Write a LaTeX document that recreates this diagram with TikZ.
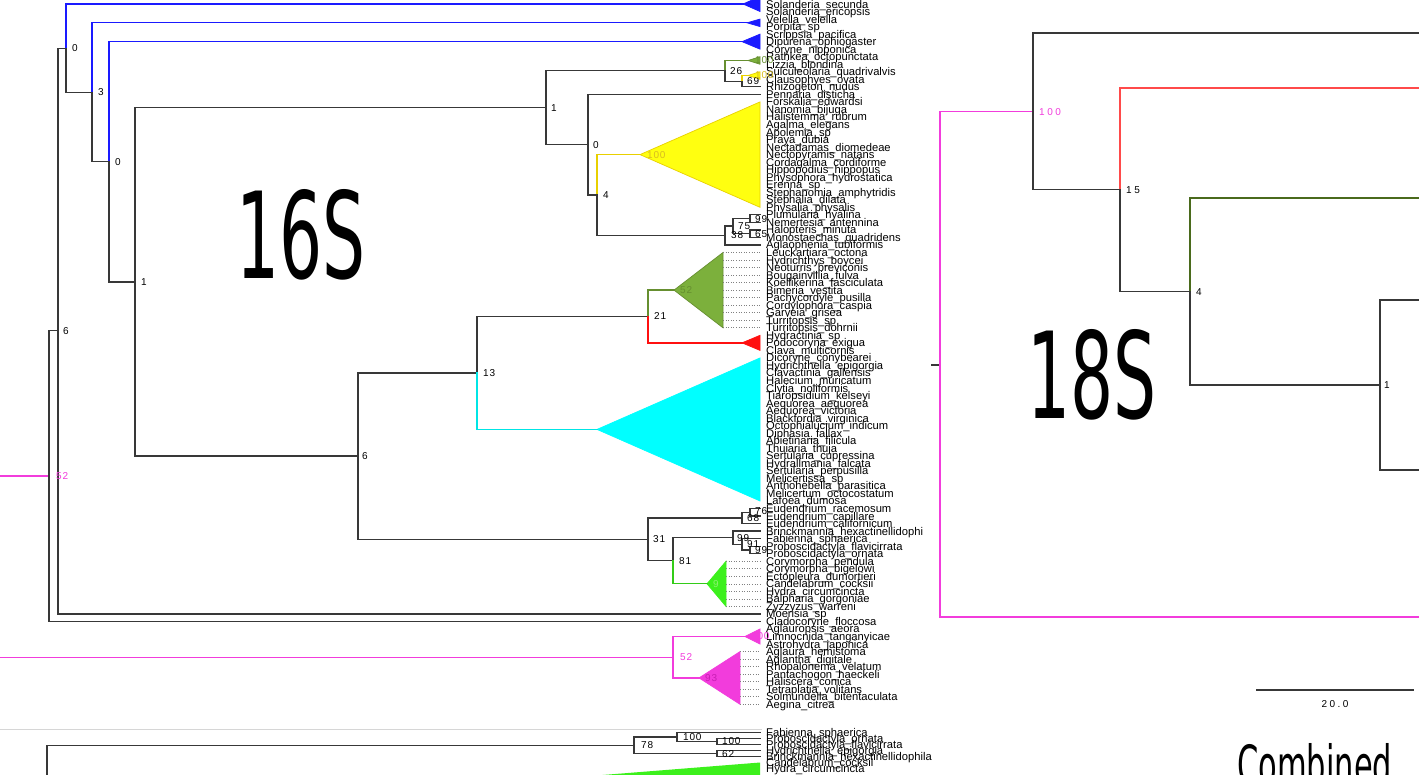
\documentclass[tikz,border=0pt]{standalone}
\usepackage{fontspec}
\setmainfont{Liberation Sans}
\newfontfamily\taxf{Liberation Sans}
\newfontfamily\numf[LetterSpace=8]{Liberation Sans}
\newfontfamily\snumf[LetterSpace=25]{Liberation Sans}
\newfontfamily\bigf{DejaVu Sans}
\definecolor{tblack}{HTML}{383838}
\definecolor{bluec}{HTML}{1A1AFF}
\definecolor{pinkc}{HTML}{F23CDC}
\definecolor{pinkdk}{HTML}{C81EB4}
\definecolor{yelfill}{HTML}{FFFF10}
\definecolor{yeledge}{HTML}{E8D000}
\definecolor{yellab}{HTML}{D8BC20}
\definecolor{olfill}{HTML}{7CB03C}
\definecolor{oledge}{HTML}{668F30}
\definecolor{redc}{HTML}{FF1010}
\definecolor{cyanc}{HTML}{00FFFF}
\definecolor{limec}{HTML}{3CF01C}
\definecolor{limelab}{HTML}{8CF070}
\definecolor{solive}{HTML}{4A6A1C}
\definecolor{sred}{HTML}{FF4A4A}
\definecolor{sepc}{HTML}{D6D6D6}
\begin{document}
\begin{tikzpicture}[x=1pt,y=-1pt,
  tl/.style={line width=1.3pt, line cap=rect, draw=tblack},
  bl/.style={tl, draw=bluec},
  pl/.style={tl, draw=pinkc},
  yl/.style={tl, draw=yeledge},
  ol/.style={tl, draw=oledge},
  rl/.style={tl, draw=redc},
  cl/.style={tl, draw=cyanc!90!black},
  ll/.style={tl, draw=limec!85!black},
  tri/.style={line width=0.7pt, line join=miter},
  lead/.style={draw=gray, dotted, line width=0.6pt},
  tax/.style={anchor=base west, inner sep=0pt, font=\taxf\fontsize{11.2}{11.2}\selectfont},
  nlab/.style={anchor=west, inner sep=0pt, font=\numf\fontsize{10}{10}\selectfont, text=black},
  slab/.style={anchor=west, inner sep=0pt, font=\snumf\fontsize{10}{10}\selectfont, text=black},
  big/.style={anchor=base west, inner sep=0pt, font=\bigf\fontsize{120}{120}\selectfont, xscale=0.565}]
\useasboundingbox (0,0) rectangle (1419,774);
\clip (0,0) rectangle (1419,774);
\fill[white] (0,0) rectangle (1419,774);

% ---------------- taxa of the 16S tree ----------------
\foreach \nm [count=\i] in {Solanderia\_secunda,Solanderia\_ericopsis,Velella\_velella,Porpita\_sp,Scrippsia\_pacifica,Dipurena\_ophiogaster,Coryne\_nipponica,Rathkea\_octopunctata,Lizzia\_blondina,Sulculeolaria\_quadrivalvis,Clausophyes\_ovata,Rhizogeton\_nudus,Pennaria\_disticha,Forskalia\_edwardsi,Nanomia\_bijuga,Halistemma\_rubrum,Agalma\_elegans,Apolemia\_sp,Praya\_dubia,Nectadamas\_diomedeae,Nectopyramis\_natans,Cordagalma\_cordiforme,Hippopodius\_hippopus,Physophora\_hydrostatica,Erenna\_sp,Stephanomia\_amphytridis,Stephalia\_dilata,Physalia\_physalis,Plumularia\_hyalina,Nemertesia\_antennina,Halopteris\_minuta,Monostaechas\_quadridens,Aglaophenia\_tubiformis,Leuckartiara\_octona,Hydrichthys\_boycei,Neoturris\_breviconis,Bougainvillia\_fulva,Koellikerina\_fasciculata,Bimeria\_vestita,Pachycordyle\_pusilla,Cordylophora\_caspia,Garveia\_grisea,Turritopsis\_sp,Turritopsis\_dohrnii,Hydractinia\_sp,Podocoryna\_exigua,Clava\_multicornis,Dicoryne\_conybearei,Hydrichthella\_epigorgia,Clavactinia\_gallensis,Halecium\_muricatum,Clytia\_noliformis,Tiaropsidium\_kelseyi,Aequorea\_aequorea,Aequorea\_victoria,Blackfordia\_virginica,Octophialucium\_indicum,Diphasia\_fallax,Abietinaria\_filicula,Thuiaria\_thuja,Sertularia\_cupressina,Hydrallmania\_falcata,Sertularia\_perpusilla,Melicertissa\_sp,Anthohebella\_parasitica,Melicertum\_octocostatum,Lafoea\_dumosa,Eudendrium\_racemosum,Eudendrium\_capillare,Eudendrium\_californicum,Brinckmannia\_hexactinellidophi,Fabienna\_sphaerica,Proboscidactyla\_flavicirrata,Proboscidactyla\_ornata,Corymorpha\_pendula,Corymorpha\_bigelowi,Ectopleura\_dumortieri,Candelabrum\_cocksii,Hydra\_circumcincta,Balpharia\_gorgoniae,Zyzzyzus\_warreni,Moerisia\_sp,Cladocoryne\_floccosa,Aglauropsis\_aeora,Limnocnida\_tanganyicae,Astrohydra\_japonica,Aglaura\_hemistoma,Aglantha\_digitale,Rhopalonema\_velatum,Pantachogon\_haeckeli,Haliscera\_conica,Tetraplatia\_volitans,Solmundella\_bitentaculata,Aegina\_citrea}{
  \pgfmathsetmacro\yy{4+7.53*(\i-1)}
  \coordinate (e\i) at (760,\yy);
  \node[tax] (t\i) at (766,\yy+4) {\nm};
}

% ---------------- internal nodes (16S) ----------------
\coordinate (L16) at (0,476.1);
\coordinate (r16) at (49,476.1);
\coordinate (n6a) at (58,330.8);
\coordinate (n0a) at (66,48.15);
\coordinate (n3) at (92,92.3);
\coordinate (n0b) at (109,161.8);
\coordinate (n1a) at (135,282);
\coordinate (n1b) at (546,107.8);
\coordinate (n26) at (725,70.8);
\coordinate (n69) at (742,81.2);
\coordinate (olsm) at (748,60.5);
\coordinate (yesm) at (748,75.5);
\coordinate (n0c) at (588,144.7);
\coordinate (n4) at (597,195.1);
\coordinate (yebig) at (640,154.6);
\coordinate (n38) at (725,235.5);
\coordinate (n75) at (733,226.1);
\coordinate (n99a) at (750,218.6);
\coordinate (n65) at (750,233.7);
\coordinate (n6b) at (358,456.1);
\coordinate (n13) at (477,373);
\coordinate (n21) at (648,316.5);
\coordinate (olbig) at (674,290.1);
\coordinate (redt) at (742,342.85);
\coordinate (cyt) at (597,429.4);
\coordinate (n31) at (648,539.3);
\coordinate (n68) at (742,517.9);
\coordinate (n76) at (750,512.3);
\coordinate (n81) at (673,560.75);
\coordinate (n99b) at (733,537.7);
\coordinate (n91) at (742,544.3);
\coordinate (n99c) at (750,549.9);
\coordinate (limet) at (707,583.8);
\coordinate (bl1) at (743,4);
\coordinate (bl2) at (747,22.8);
\coordinate (bl3) at (742,41.65);
\coordinate (L2) at (0,657.2);
\coordinate (np52) at (673,657.2);
\coordinate (pksm) at (745,636.5);
\coordinate (pkbig) at (699,677.9);

% ---------------- collapsed clades ----------------
\filldraw[tri, fill=bluec, draw=bluec] (bl1) -- (760,-3.5) -- (760,11.5) -- cycle;
\filldraw[tri, fill=bluec, draw=bluec] (bl2) -- (760,19.06) -- (760,26.59) -- cycle;
\filldraw[tri, fill=bluec, draw=bluec] (bl3) -- (760,34.12) -- (760,49.18) -- cycle;
\filldraw[tri, fill=olfill, draw=oledge] (olsm) -- (760,56.71) -- (760,64.24) -- cycle;
\filldraw[tri, fill=yelfill, draw=yeledge] (yesm) -- (760,71.77) -- (760,79.3) -- cycle;
\filldraw[tri, fill=yelfill, draw=yeledge] (yebig) -- (760,101.89) -- (760,207.31) -- cycle;
\filldraw[tri, fill=olfill, draw=oledge] (olbig) -- (723,252.49) -- (723,327.79) -- cycle;
\filldraw[tri, fill=redc, draw=redc] (redt) -- (760,335.32) -- (760,350.38) -- cycle;
\filldraw[tri, fill=cyanc, draw=cyanc] (cyt) -- (760,357.91) -- (760,500.98) -- cycle;
\filldraw[tri, fill=limec, draw=limec] (limet) -- (726,561.22) -- (726,606.4) -- cycle;
\filldraw[tri, fill=pinkc, draw=pinkc] (pksm) -- (760,628.99) -- (760,644.05) -- cycle;
\filldraw[tri, fill=pinkc, draw=pinkc] (pkbig) -- (740,651.58) -- (740,704.29) -- cycle;
\foreach \i in {34,...,44} \draw[lead] (723,{4+7.53*(\i-1)}) -- (e\i);
\foreach \i in {75,...,81} \draw[lead] (726,{4+7.53*(\i-1)}) -- (e\i);
\foreach \i in {87,...,94} \draw[lead] (740,{4+7.53*(\i-1)}) -- (e\i);

% ---------------- branches (16S) ----------------
\draw[pl] (L16) -- (r16);
\draw[tl] (r16) |- (n6a);
\draw[tl] (r16) |- (e83);
\draw[tl] (n6a) |- (n0a);
\draw[tl] (n6a) |- (e82);
\draw[bl] (n0a) |- (bl1);
\draw[tl] (n0a) |- (n3);
\draw[bl] (n3) |- (bl2);
\draw[tl] (n3) |- (n0b);
\draw[bl] (n0b) |- (bl3);
\draw[tl] (n0b) |- (n1a);
\draw[tl] (n1a) |- (n1b);
\draw[tl] (n1a) |- (n6b);
\draw[tl] (n1b) |- (n26);
\draw[tl] (n1b) |- (n0c);
\draw[ol] (n26) |- (olsm);
\draw[tl] (n26) |- (n69);
\draw[yl] (n69) |- (yesm);
\draw[tl] (n69) |- (e12);
\draw[tl] (n0c) |- (e13);
\draw[tl] (n0c) |- (n4);
\draw[yl] (n4) |- (yebig);
\draw[tl] (n4) |- (n38);
\draw[tl] (n38) |- (n75);
\draw[tl] (n38) |- (e33);
\draw[tl] (n75) |- (n99a);
\draw[tl] (n75) |- (n65);
\draw[tl] (n99a) |- (e29);
\draw[tl] (n99a) |- (e30);
\draw[tl] (n65) |- (e31);
\draw[tl] (n65) |- (e32);
\draw[tl] (n6b) |- (n13);
\draw[tl] (n6b) |- (n31);
\draw[tl] (n13) |- (n21);
\draw[cl] (n13) |- (cyt);
\draw[ol] (n21) |- (olbig);
\draw[rl] (n21) |- (redt);
\draw[tl] (n31) |- (n68);
\draw[tl] (n31) |- (n81);
\draw[tl] (n68) |- (n76);
\draw[tl] (n68) |- (e70);
\draw[tl] (n76) |- (e68);
\draw[tl] (n76) |- (e69);
\draw[tl] (n81) |- (n99b);
\draw[ll] (n81) |- (limet);
\draw[tl] (n99b) |- (e71);
\draw[tl] (n99b) |- (n91);
\draw[tl] (n91) |- (e72);
\draw[tl] (n91) |- (n99c);
\draw[tl] (n99c) |- (e73);
\draw[tl] (n99c) |- (e74);
\draw[pl] (L2) -- (np52);
\draw[pl] (np52) |- (pksm);
\draw[pl] (np52) |- (pkbig);

% ---------------- support values (16S) ----------------
\node[nlab, text=pinkc] (lr16) at (56,476.1) {52};
\node[nlab] (l6a) at (63,330.8) {6};
\node[nlab] (l0a) at (72,48.15) {0};
\node[nlab] (l3) at (98,92.3) {3};
\node[nlab] (l0b) at (115,161.8) {0};
\node[nlab] (l1a) at (141,282) {1};
\node[nlab] (l1b) at (551,107.8) {1};
\node[nlab] (l0c) at (593,144.7) {0};
\node[nlab] (l4) at (603,195.1) {4};
\node[nlab] (l26) at (730,70.8) {26};
\node[nlab] (l69) at (747,81.2) {69};
\node[nlab, text=oledge] (lolsm) at (755,60.5) {100};
\node[nlab, text=yellab] (lyesm) at (755,75.5) {100};
\node[nlab, text=yellab] (lyebig) at (647,154.6) {100};
\node[nlab] (l38) at (731,235.5) {38};
\node[nlab] (l75) at (738,226.1) {75};
\node[nlab] (l99a) at (755,218.6) {99};
\node[nlab] (l65) at (755,233.7) {65};
\node[nlab] (l6b) at (362,456.1) {6};
\node[nlab] (l13) at (483,373) {13};
\node[nlab] (l21) at (654,316.5) {21};
\node[nlab, text=oledge] (lolbig) at (680,290.1) {52};
\node[nlab] (l31) at (653,539.3) {31};
\node[nlab] (l68) at (747,517.9) {68};
\node[nlab] (l76) at (755,511.3) {76};
\node[nlab] (l81) at (679,560.75) {81};
\node[nlab] (l99b) at (737,537.7) {99};
\node[nlab] (l91) at (747,544.3) {91};
\node[nlab] (l99c) at (755,549.9) {99};
\node[nlab, text=limelab] (llime) at (713,583.8) {9};
\node[nlab, text=pinkc] (lpksm) at (751,636.5) {100};
\node[nlab, text=pinkc] (lnp52) at (680,657.2) {52};
\node[nlab, text=pinkdk] (lpkbig) at (705,677.9) {93};

\node[big] (b16) at (236,278) {16S};

% ---------------- separator and combined tree ----------------
\draw[sepc, line width=1pt] (0,729) -- (762,729);
\foreach \nm [count=\k] in {Fabienna\_sphaerica,Proboscidactyla\_ornata,Proboscidactyla\_flavicirrata,Hydrichthella\_epigorgia,Brinckmannia\_hexactinellidophila,Candelabrum\_cocksii,Hydra\_circumcincta}{
  \pgfmathsetmacro\yy{732.3+6.1*(\k-1)}
  \coordinate (ce\k) at (760,\yy);
  \node[tax] (ct\k) at (766,\yy+4) {\nm};
}
\fill[limec] (590,776) -- (760,762.5) -- (760,776) -- cycle;
\coordinate (cbot) at (47,780);
\coordinate (croot) at (47,745.3);
\coordinate (c78) at (634,745.3);
\coordinate (c100a) at (677,736.9);
\coordinate (c100b) at (717,741.45);
\coordinate (c62) at (717,753.65);
\draw[tl] (cbot) -- (croot);
\draw[tl] (croot) -- (c78);
\draw[tl] (c78) |- (c100a);
\draw[tl] (c78) |- (c62);
\draw[tl] (c100a) |- (ce1);
\draw[tl] (c100a) |- (c100b);
\draw[tl] (c100b) |- (ce2);
\draw[tl] (c100b) |- (ce3);
\draw[tl] (c62) |- (ce4);
\draw[tl] (c62) |- (ce5);
\node[nlab] (lc78) at (641,745.3) {78};
\node[nlab] (lc100a) at (683,736.9) {100};
\node[nlab] (lc100b) at (722,741.45) {100};
\node[nlab] (lc62) at (722,753.65) {62};

% ---------------- 18S tree ----------------
\coordinate (sstub) at (932,365);
\coordinate (sroot) at (940,365);
\coordinate (s100) at (1033,111.5);
\coordinate (s15) at (1120,189.75);
\coordinate (s4) at (1190,291.5);
\coordinate (s1) at (1380,385);
\coordinate (f1) at (1420,33);
\coordinate (f2) at (1420,88);
\coordinate (f3) at (1420,198);
\coordinate (f4) at (1420,300);
\coordinate (f5) at (1420,470);
\coordinate (f6) at (1420,617);
\draw[tl] (sstub) -- (sroot);
\draw[pl] (sroot) |- (s100);
\draw[pl] (sroot) |- (f6);
\draw[tl] (s100) |- (f1);
\draw[tl] (s100) |- (s15);
\draw[tl, draw=sred] (s15) |- (f2);
\draw[tl] (s15) |- (s4);
\draw[tl, draw=solive] (s4) |- (f3);
\draw[tl] (s4) |- (s1);
\draw[tl] (s1) |- (f4);
\draw[tl] (s1) |- (f5);
\node[slab, text=pinkc] (ls100) at (1039,112) {100};
\node[slab] (ls15) at (1126,190.5) {15};
\node[slab] (ls4) at (1196,292.5) {4};
\node[slab] (ls1) at (1384,385.5) {1};
\node[big] (b18) at (1027,418) {18S};

\coordinate (sb1) at (1257,690);
\coordinate (sb2) at (1413,690);
\draw[tl, line width=1.1pt] (sb1) -- (sb2);
\node[slab, anchor=center] (lsb) at (1335,704) {20.0};

\node[big, font=\bigf\fontsize{54}{54}\selectfont] (bcomb) at (1237,784) {Combined};
\end{tikzpicture}
\end{document}
